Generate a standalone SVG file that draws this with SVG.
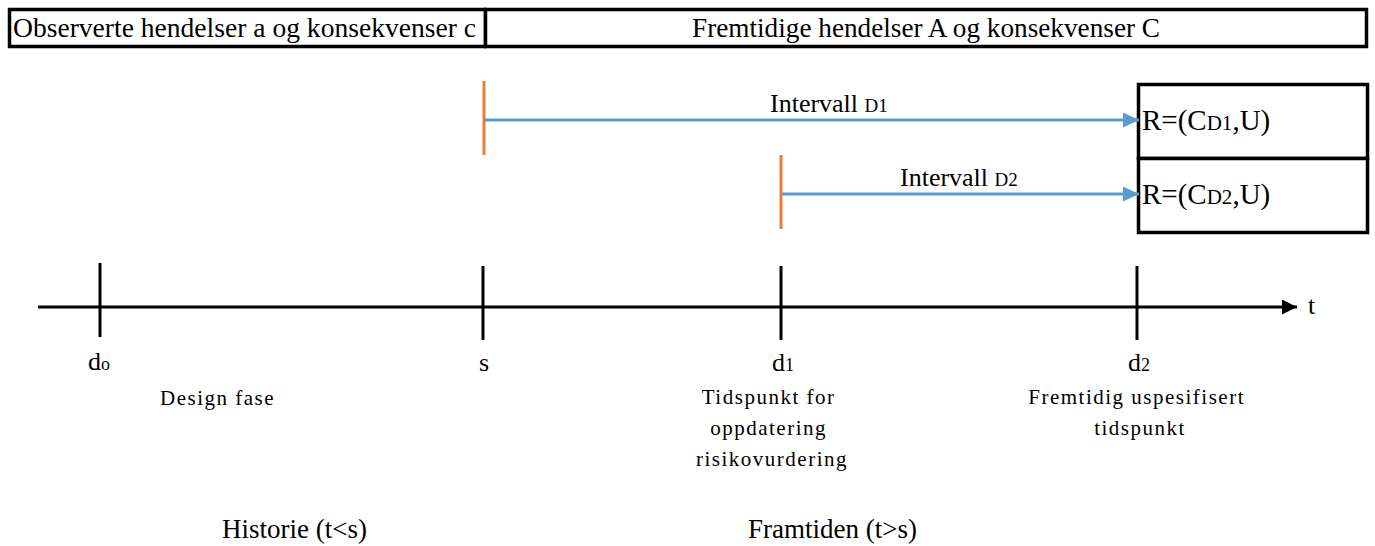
<svg xmlns="http://www.w3.org/2000/svg" width="1375" height="546" viewBox="0 0 1375 546">
  <style>
    text { font-family: "Liberation Serif", "Times New Roman", serif; fill: #000; }
    .hdr { font-size: 27px; }
    .lbl { font-size: 26px; }
    .sub { font-size: 18px; }
    .big { font-size: 29px; }
    .bigsub { font-size: 21px; }
    .ivl { font-size: 26px; }
    .ivlsub { font-size: 19px; }
    .note { font-size: 21px; letter-spacing: 1.5px; }
    .period { font-size: 27px; }
    .box { fill: #fff; stroke: #000; stroke-width: 3.5; }
    .axis { stroke: #000; stroke-width: 3; fill: none; }
    .tick { stroke: #000; stroke-width: 3; }
    .start { stroke: #ED7D31; stroke-width: 3; }
    .span { stroke: #5B9BD5; stroke-width: 3; fill: none; }
  </style>
  <defs>
    <marker id="blueHead" viewBox="0 0 16 15" refX="16" refY="7.5" markerWidth="16" markerHeight="15" markerUnits="userSpaceOnUse" orient="auto">
      <path d="M0,0 L16,7.5 L0,15 Z" fill="#5B9BD5"/>
    </marker>
    <marker id="blackHead" viewBox="0 0 15 15" refX="15" refY="7.5" markerWidth="15" markerHeight="15" markerUnits="userSpaceOnUse" orient="auto">
      <path d="M0,0 L15,7.5 L0,15 Z" fill="#000"/>
    </marker>
  </defs>

  <!-- header bar -->
  <g id="header-past">
    <rect class="box" x="9.5" y="9.5" width="476" height="37"/>
    <text class="hdr" x="13" y="37" textLength="463" lengthAdjust="spacingAndGlyphs">Observerte hendelser a og konsekvenser c</text>
  </g>
  <g id="header-future">
    <rect class="box" x="485.5" y="9.5" width="881" height="37"/>
    <text class="hdr" x="926" y="37" text-anchor="middle" textLength="468" lengthAdjust="spacingAndGlyphs">Fremtidige hendelser A og konsekvenser C</text>
  </g>

  <!-- risk result boxes -->
  <g id="risk-d1">
    <rect class="box" x="1138.5" y="84.5" width="229" height="74"/>
    <text x="1142" y="130"><tspan class="big">R=(C</tspan><tspan class="bigsub">D1</tspan><tspan class="big">,U)</tspan></text>
  </g>
  <g id="risk-d2">
    <rect class="box" x="1138.5" y="158.5" width="229" height="74"/>
    <text x="1142" y="204"><tspan class="big">R=(C</tspan><tspan class="bigsub">D2</tspan><tspan class="big">,U)</tspan></text>
  </g>

  <!-- interval starts -->
  <g id="interval-d1">
    <line class="start" x1="484" y1="81" x2="484" y2="155"/>
    <text x="770" y="112"><tspan class="ivl">Intervall </tspan><tspan class="ivlsub">D1</tspan></text>
  </g>
  <g id="interval-d2">
    <line class="start" x1="781" y1="155" x2="781" y2="229"/>
    <text x="900" y="186"><tspan class="ivl">Intervall </tspan><tspan class="ivlsub">D2</tspan></text>
  </g>

  <!-- time axis and marks -->
  <g id="mark-d0">
    <line class="tick" x1="100" y1="263" x2="100" y2="337"/>
    <text x="88" y="370"><tspan class="lbl">d</tspan><tspan class="sub">o</tspan></text>
    <text class="note" x="160" y="405">Design fase</text>
  </g>
  <g id="mark-s">
    <line class="tick" x1="483" y1="266" x2="483" y2="340"/>
    <text class="lbl" x="484" y="371" text-anchor="middle">s</text>
  </g>
  <g id="mark-d1">
    <line class="tick" x1="781" y1="266" x2="781" y2="340"/>
    <text x="772" y="371"><tspan class="lbl">d</tspan><tspan class="sub">1</tspan></text>
    <text class="note" text-anchor="middle">
      <tspan x="772" y="404">Tidspunkt for</tspan>
      <tspan x="772" y="435">oppdatering</tspan>
      <tspan x="772" y="466">risikovurdering</tspan>
    </text>
  </g>
  <g id="mark-d2">
    <line class="tick" x1="1137" y1="266" x2="1137" y2="340"/>
    <text x="1128" y="371"><tspan class="lbl">d</tspan><tspan class="sub">2</tspan></text>
    <text class="note" text-anchor="middle">
      <tspan x="1140" y="404">Fremtidig uspesifisert</tspan>
      <tspan x="1140" y="435">tidspunkt</tspan>
    </text>
  </g>
  <g id="axis-label">
    <text class="lbl" x="1308" y="314">t</text>
  </g>

  <!-- period labels -->
  <g id="period-past">
    <text class="period" x="222" y="538">Historie (t&lt;s)</text>
  </g>
  <g id="period-future">
    <text class="period" x="748" y="538">Framtiden (t&gt;s)</text>
  </g>

  <!-- connectors -->
  <g id="connectors">
    <line class="axis" x1="38" y1="307" x2="1297" y2="307" marker-end="url(#blackHead)"/>
    <line class="span" x1="485" y1="120" x2="1139" y2="120" marker-end="url(#blueHead)"/>
    <line class="span" x1="782" y1="194" x2="1139" y2="194" marker-end="url(#blueHead)"/>
  </g>
</svg>
